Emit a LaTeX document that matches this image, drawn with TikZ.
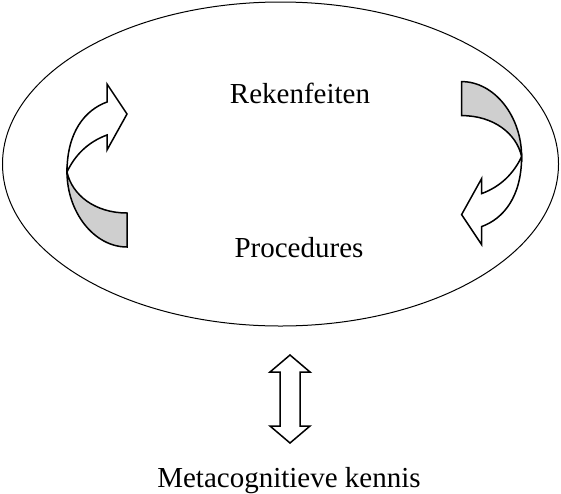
\documentclass[tikz,border=0pt]{standalone}
\usepackage{fontspec}
\setmainfont{Liberation Serif}
\colorlet{shade}{black!19}
\tikzset{ribbon/.style={line width=1.5pt, line join=miter}}
\def\turnarrow{%
	\filldraw[ribbon, fill=shade] (127, 247) .. controls (94, 247) and (67, 212) .. (67, 172)
		.. controls (72, 195) and (95, 213) .. (127, 213) -- cycle;
	\filldraw[ribbon, fill=white] (67, 172) .. controls (67, 132) and (85, 110) .. (107, 102)
		-- (107, 84) -- (127, 114) -- (107, 150) -- (107, 135)
		.. controls (88, 142) and (75, 155) .. (67, 172) -- cycle;
}

\begin{document}
\begin{tikzpicture}[x=1pt, y=-1pt]
			%%%%% START %%%%%
			\useasboundingbox (0, 0) rectangle (561, 493);
			
			\draw[line width=1pt] (280.5, 164) ellipse [x radius=278pt, y radius=162pt];
			
			\turnarrow
			\begin{scope}[rotate around={180:(294.3, 164.3)}]
				\turnarrow
			\end{scope}
			
			\node[anchor=base, font=\fontsize{29}{34}\selectfont] (feiten) at (300, 103) {Rekenfeiten};
			\node[anchor=base, font=\fontsize{29}{34}\selectfont] (proc) at (299, 257) {Procedures};
			\node[anchor=base, font=\fontsize{29}{34}\selectfont] (meta) at (289, 487) {Metacognitieve kennis};
			
			\draw[ribbon] (290, 355) -- (310, 372) -- (300, 372) -- (300, 426) -- (310, 426) -- (290, 443)
				-- (270, 426) -- (280, 426) -- (280, 372) -- (270, 372) -- cycle;
			
			%%%%% END %%%%%
\end{tikzpicture}
\end{document}
